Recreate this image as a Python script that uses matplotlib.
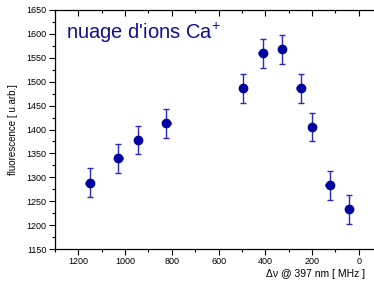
import matplotlib
matplotlib.use("Agg")
import matplotlib.pyplot as plt
from matplotlib.ticker import MultipleLocator

# data
detuning = [1152, 1029, 946, 823, 495, 412, 329, 249, 201, 125, 42]
fluo = [1289, 1340, 1378, 1413, 1486, 1559, 1568, 1486, 1405, 1283, 1233]
fluo_err = [30, 30, 30, 30, 30, 30, 30, 30, 30, 30, 30]
detuning_err = [18] * len(detuning)

plt.rcParams['font.family'] = ['Liberation Sans', 'DejaVu Sans']
plt.rcParams['mathtext.fontset'] = 'custom'
plt.rcParams['mathtext.rm'] = 'Liberation Sans'

fig = plt.figure(figsize=(3.74, 2.84), dpi=100)
ax = fig.add_axes([0.147, 0.123, 0.853, 0.842])

ax.errorbar(detuning, fluo, yerr=fluo_err, fmt='none', ecolor='#2a2ab8',
            elinewidth=1.0, capsize=2.5, capthick=1.0)
ax.errorbar(detuning, fluo, xerr=detuning_err, fmt='o', color='#0000a0',
            ms=6.0, elinewidth=2.2, capsize=0)

ax.set_xlim(1300, -65)
ax.set_ylim(1150, 1650)

ax.xaxis.set_major_locator(MultipleLocator(200))
ax.xaxis.set_minor_locator(MultipleLocator(100))
ax.yaxis.set_major_locator(MultipleLocator(50))
ax.yaxis.set_minor_locator(MultipleLocator(25))

ax.spines['right'].set_visible(False)
for s in ['left', 'bottom', 'top']:
    ax.spines[s].set_linewidth(0.9)

ax.tick_params(axis='both', which='both', labelsize=6.5, width=0.8, pad=2)
ax.tick_params(axis='both', which='major', length=4, direction='out')
ax.tick_params(axis='both', which='minor', length=2, direction='out')
ax.tick_params(axis='x', which='both', top=True, labeltop=False)

# top ticks point inwards
for t in ax.xaxis.get_major_ticks() + ax.xaxis.get_minor_ticks():
    t.tick2line.set_marker(3)

ax.set_ylabel("fluorescence [ u.arb.]", fontsize=7, labelpad=6)
ax.set_xlabel("Δν @ 397 nm [ MHz ]", fontsize=7.5)
ax.xaxis.label.set_horizontalalignment('right')
ax.xaxis.set_label_coords(0.972, -0.085)

ax.text(0.033, 0.955, "nuage d'ions Ca$^{\\mathrm{+}}$", transform=ax.transAxes,
        fontsize=14.5, color='#101090', va='top', ha='left')

fig.savefig("out.png", dpi=100)
